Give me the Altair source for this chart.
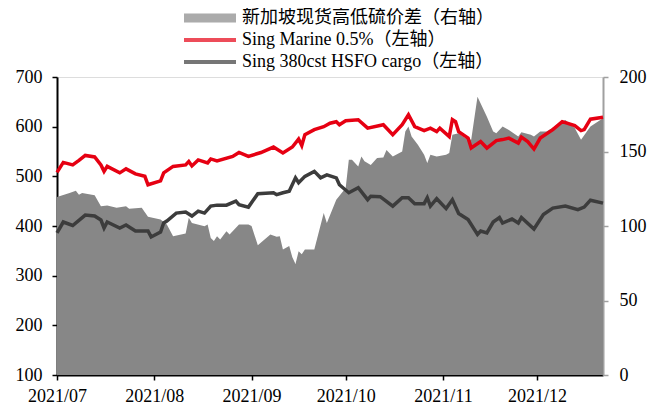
import altair as alt
import pandas as pd

START = "2021-07-01"

# Sing Marine 0.5% (left axis) -- day offsets from START and values
red_days = [0, 2, 5, 7, 9, 12, 14, 15, 16, 20, 22, 25, 28, 29, 33, 34, 37, 41, 42, 43,
            45, 48, 49, 51, 56, 58, 61, 65, 69, 70, 72, 75, 77, 78, 79, 82, 85, 87, 89, 90,
            92, 96, 99, 104, 107, 110, 112, 114, 117, 119, 121, 122, 125, 126, 127, 128, 131, 132, 135, 137,
            140, 142, 144, 147, 148, 150, 152, 154, 158, 161, 165, 167, 168, 170, 174]
red_vals = [508, 528, 523, 532, 542, 539, 523, 510, 520, 507, 515, 505, 500, 483, 491, 507, 520, 523, 530, 521,
            533, 527, 535, 531, 540, 548, 540, 548, 559, 555, 547, 559, 575, 562, 584, 594, 600, 607, 610, 604,
            612, 614, 597, 604, 584, 604, 624, 600, 592, 597, 590, 597, 580, 614, 610, 590, 577, 557, 570, 557,
            572, 574, 577, 567, 579, 570, 555, 577, 594, 610, 602, 592, 594, 615, 619]

# Sing 380cst HSFO cargo (left axis)
dark_days = [0, 2, 5, 9, 12, 14, 15, 16, 20, 22, 25, 29, 30, 33, 34, 35, 38, 41, 43, 45,
             47, 49, 51, 54, 57, 58, 61, 64, 69, 70, 72, 74, 76, 77, 79, 82, 84, 86, 89, 90,
             93, 96, 99, 100, 103, 107, 110, 112, 114, 117, 118, 119, 121, 124, 126, 128, 131, 134, 135, 137,
             139, 141, 142, 145, 147, 148, 152, 155, 158, 162, 166, 168, 170, 174]
dark_vals = [386, 408, 401, 422, 420, 412, 396, 408, 396, 402, 390, 390, 378, 388, 406, 410, 426, 428, 420, 430,
             426, 440, 442, 442, 450, 443, 438, 465, 467, 463, 467, 470, 497, 487, 500, 510, 497, 503, 497, 483,
             467, 477, 453, 460, 459, 440, 457, 457, 445, 445, 457, 440, 455, 435, 453, 425, 413, 383, 390, 386,
             408, 417, 406, 414, 406, 417, 394, 423, 436, 440, 433, 438, 452, 446]

# Singapore spot high/low sulphur spread (right axis)
spread_days = [0, 4, 6, 7, 8, 12, 14, 16, 19, 22, 23, 27, 29, 33, 35, 37, 41, 42, 43, 47,
               48, 49, 50, 51, 52, 54, 55, 58, 61, 62, 64, 68, 70, 71, 72, 74, 75, 76, 77, 78,
               79, 82, 85, 86, 89, 92, 93, 94, 96, 97, 98, 100, 102, 104, 105, 107, 110, 111, 112, 113,
               115, 117, 118, 119, 121, 124, 125, 126, 128, 130, 132, 134, 137, 139, 140, 142, 144, 147, 148, 151,
               152, 154, 156, 162, 165, 167, 170, 174]
spread_vals = [119.5, 122.2, 123.7, 121, 122.2, 120.6, 113.3, 113.7, 112.2, 113.3, 111.5, 112.2, 106.2, 104.3, 101, 93.2, 95, 105.5, 102, 99.9,
               101, 92, 90, 93.2, 91, 96.5, 94.3, 101, 101, 100, 87, 94.3, 92.8, 93.2, 84.3, 86.5, 79, 74.5, 83, 81,
               84.3, 84.3, 108.8, 102, 117.7, 125.5, 144.5, 144.5, 140, 146.7, 143.4, 141, 145.6, 146, 151, 146.7, 150, 163.4, 166.8, 160,
               154.5, 147.8, 142.3, 147.8, 146.7, 147.8, 149, 161.2, 162.3, 159, 157.9, 186.8, 173.4, 163.4, 162.3, 166.8, 164.5, 160, 163, 161.2,
               160, 163.4, 163.4, 171.2, 165.7, 157.9, 166.8, 172.3]

series_names = ["新加坡现货高低硫价差（右轴）", "Sing Marine 0.5%（左轴）", "Sing 380cst HSFO cargo（左轴）"]
series_colors = ["#878787", "#E60012", "#3C3C3C"]
# legend swatches: wide bar for the area, thin bars for the lines
legend_shapes = ["M-9.4,-0.9L1,-0.9L1,0.9L-9.4,0.9Z",
                 "M-9.4,-0.4L1,-0.4L1,0.4L-9.4,0.4Z",
                 "M-9.4,-0.4L1,-0.4L1,0.4L-9.4,0.4Z"]
month_ticks = [7, 8, 9, 10, 11, 12]


def to_df(days, vals):
    return pd.DataFrame({"date": pd.Timestamp(START) + pd.to_timedelta(days, unit="D"),
                         "value": vals})


red_df = to_df(red_days, red_vals)
dark_df = to_df(dark_days, dark_vals)
spread_df = to_df(spread_days, spread_vals)
legend_df = pd.DataFrame({"series": series_names})

FONT = "Liberation Serif, Times New Roman, Noto Sans CJK SC"

x_enc = alt.X(
    "date:T",
    scale=alt.Scale(domain=[alt.DateTime(year=2021, month=7, date=1),
                            alt.DateTime(year=2021, month=12, date=22)]),
    axis=alt.Axis(values=[alt.DateTime(year=2021, month=m, date=1) for m in month_ticks],
                  format="%Y/%m", title=None, grid=False, domainColor="black", domainWidth=2,
                  tickColor="black", tickSize=5, tickWidth=1.5, labelPadding=7, labelFontSize=18,
                  labelFont=FONT, labelColor="black", labelOverlap=False, labelFlush=False),
)

area = alt.Chart(spread_df).mark_area(color=series_colors[0], opacity=1).encode(
    x=x_enc,
    y=alt.Y("value:Q",
            scale=alt.Scale(domain=[0, 200], nice=False, zero=True),
            axis=alt.Axis(orient="right", values=[0, 50, 100, 150, 200], title=None, grid=False,
                          domainColor="#A0A0A0", domainWidth=2, tickColor="#A0A0A0", tickSize=5,
                          tickWidth=1.5, labelPadding=11, labelFontSize=18, labelFont=FONT,
                          labelColor="black")),
)

y_left = alt.Y("value:Q",
               scale=alt.Scale(domain=[100, 700], nice=False, zero=False),
               axis=alt.Axis(orient="left", values=[100, 200, 300, 400, 500, 600, 700], title=None,
                             grid=False, domainColor="black", domainWidth=2, tickColor="black",
                             tickSize=5, tickWidth=1.5, labelPadding=10, labelFontSize=18,
                             labelFont=FONT, labelColor="black"))

red = alt.Chart(red_df).mark_line(color=series_colors[1], strokeWidth=3.5).encode(x=x_enc, y=y_left)
dark = alt.Chart(dark_df).mark_line(color=series_colors[2], strokeWidth=3.5).encode(x=x_enc, y=y_left)

legend_props = dict(title=None, orient="none", legendX=165, legendY=-68,
                    symbolSize=100, symbolStrokeWidth=0, labelFontSize=18,
                    labelFont=FONT, labelColor="black", labelLimit=600,
                    labelOffset=2, rowPadding=4, padding=0)

legend_layer = alt.Chart(legend_df).mark_point(filled=True, size=1).encode(
    x=alt.value(-500),
    y=alt.value(-500),
    color=alt.Color("series:N",
                    scale=alt.Scale(domain=series_names, range=series_colors),
                    legend=alt.Legend(**legend_props)),
    shape=alt.Shape("series:N",
                    scale=alt.Scale(domain=series_names, range=legend_shapes),
                    legend=alt.Legend(**legend_props)),
)

lines = alt.layer(red, dark, legend_layer)

chart = alt.layer(area, lines).resolve_scale(y="independent").properties(
    width=546,
    height=298,
    autosize=alt.AutoSizeParams(type="none"),
    padding={"left": 49, "top": 69, "right": 46, "bottom": 30},
).configure_view(stroke=None).configure(font=FONT)

chart.save("out.html", embed_options={"renderer": "svg", "actions": False})
